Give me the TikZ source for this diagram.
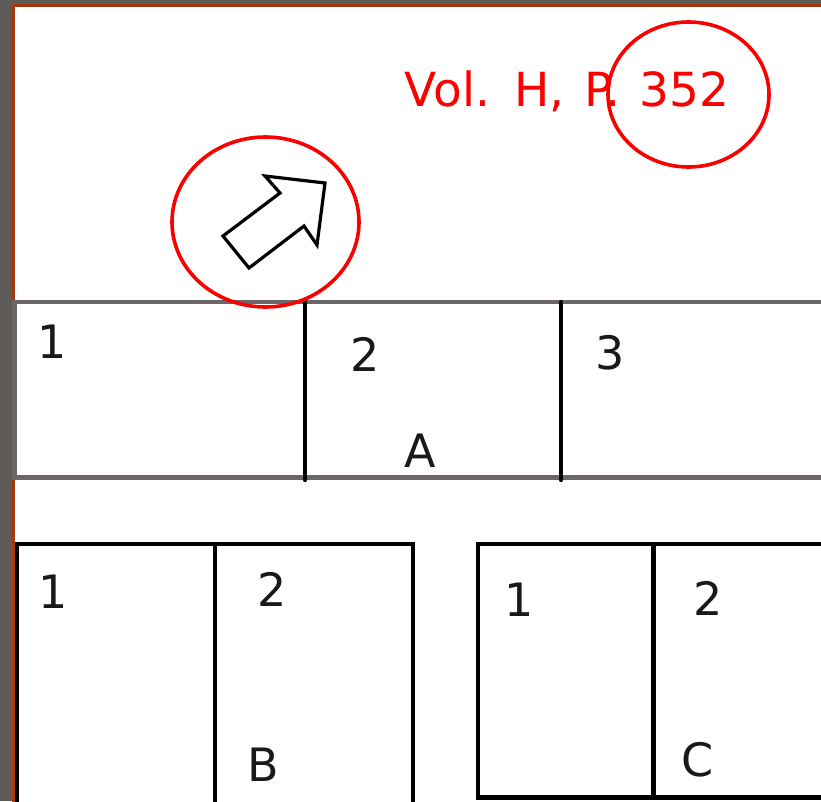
\documentclass[tikz,border=0pt]{standalone}
\usepackage{fontspec}
\setmainfont{DejaVu Sans}
\definecolor{bggray}{HTML}{5E5A58}
\definecolor{pagebrown}{HTML}{A4380F}
\definecolor{bandgray}{HTML}{6B6767}
\definecolor{markred}{HTML}{FA0000}
\begin{document}
\begin{tikzpicture}[x=1pt,y=-1pt,
  lbl/.style={inner sep=0pt, font=\fontsize{46}{55}\selectfont, text=black!90},
  bandline/.style={draw=bandgray, line width=4.5pt},
  blackline/.style={draw=black, line width=4.2pt, line cap=round},
  boxline/.style={draw=black, line width=4.5pt},
  redmark/.style={draw=markred, line width=3.6pt}]
\useasboundingbox (0,0) rectangle (821,801);
\clip (0,0) rectangle (821,801);
\fill[bggray] (0,0) rectangle (821,801);
\filldraw[fill=white, draw=pagebrown, line width=3pt] (13.5,5.5) rectangle (830,812);
% band A
\draw[bandline] (14.5,302) rectangle (830,477.5);
\draw[blackline] (305,302) -- (305,480);
\draw[blackline] (561,302) -- (561,480);
% box B
\draw[boxline] (17,544) rectangle (413,830);
\draw[boxline] (215,544) -- (215,830);
% box C
\draw[boxline] (478,544) rectangle (840,797.5);
\draw[boxline] (653.5,544) -- (653.5,797.5);
% labels
\node[lbl] (a1) at (52,342) {1};
\node[lbl] (a2) at (365,354) {2};
\node[lbl] (a3) at (610,353) {3};
\node[lbl] (aA) at (420.5,450.5) {A};
\node[lbl] (b1) at (53,592) {1};
\node[lbl] (b2) at (272,589) {2};
\node[lbl] (bB) at (263,765) {B};
\node[lbl] (c1) at (519,600) {1};
\node[lbl] (c2) at (708.5,598) {2};
\node[lbl] (cC) at (698,760) {C};
% title
\node[inner sep=0pt, anchor=base west, font=\fontsize{47}{55}\selectfont, text=markred] (title) at (404.6,106) {Vol.\hspace{24pt}H,\hspace{20pt}P.\hspace{19pt}352};
% arrow
\draw[black, line width=3.2pt, line join=miter, fill=white]
  (223,236) -- (249,268) -- (304,226) -- (317,245) -- (325,183) -- (265,176) -- (280,193) -- cycle;
% red marks
\draw[redmark] (688.5,94.5) ellipse [x radius=80.5, y radius=72.5];
\draw[redmark] (265.5,222) ellipse [x radius=93.5, y radius=85];
\end{tikzpicture}
\end{document}
